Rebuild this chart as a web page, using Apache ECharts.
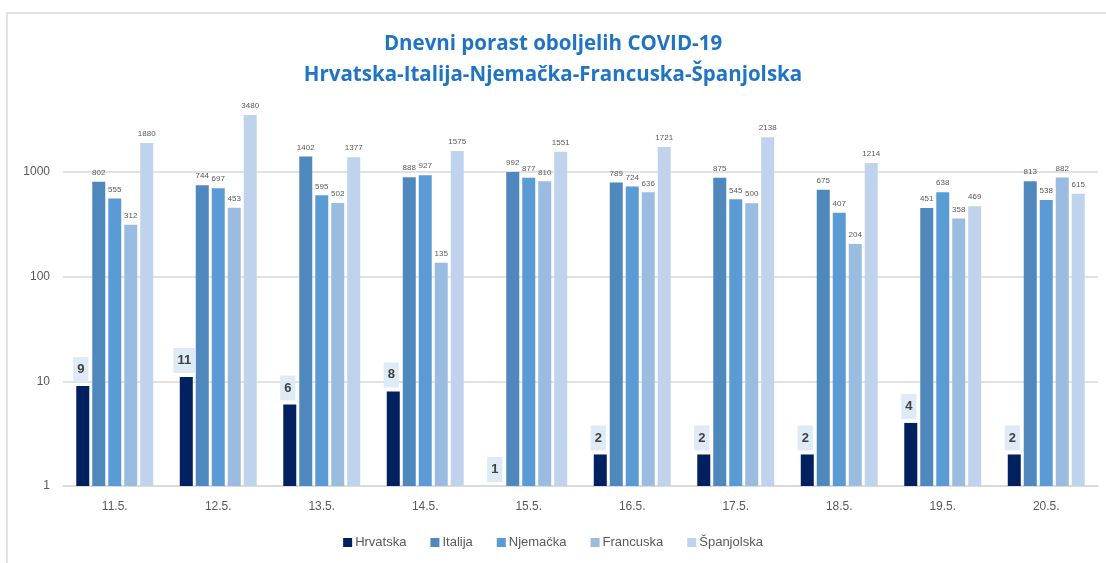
<!DOCTYPE html>
<html style="height: 100%">
<head>
    <meta charset="utf-8">
    <script src="https://cdn.jsdelivr.net/npm/echarts@6/dist/echarts.min.js"></script>
</head>
<body style="height:100%;margin:0;background:#fff">
    <div id="main" style="width:1106px;height:563px;"></div>
    <script type="text/javascript">

        // podaci
        var dani = ['11.5.', '12.5.', '13.5.', '14.5.', '15.5.', '16.5.', '17.5.', '18.5.', '19.5.', '20.5.'];
        var hrvatska = [9, 11, 6, 8, 1, 2, 2, 2, 4, 2];
        var italija = [802, 744, 1402, 888, 992, 789, 875, 675, 451, 813];
        var njemacka = [555, 697, 595, 927, 877, 724, 545, 407, 638, 538];
        var francuska = [312, 453, 502, 135, 810, 636, 500, 204, 358, 882];
        var spanjolska = [1880, 3480, 1377, 1575, 1551, 1721, 2138, 1214, 469, 615];

        var myChart = echarts.init(document.getElementById('main'));

        var malaOznaka = {
            show: true,
            position: 'top',
            distance: 5,
            fontSize: 8,
            color: '#595959',
            fontFamily: 'Liberation Sans'
        };

        function serija(ime, podaci, boja) {
            return {
                name: ime,
                type: 'bar',
                data: podaci,
                barWidth: 13,
                barGap: '23%',
                itemStyle: { color: boja },
                label: malaOznaka
            };
        }

        var option = {
            animation: false,
            textStyle: { fontFamily: 'Liberation Sans' },
            graphic: [{
                type: 'rect',
                shape: { x: 7, y: 13, width: 1200, height: 600 },
                style: { fill: 'none', stroke: '#d9d9d9', lineWidth: 1.5 },
                z: -1
            }],
            title: {
                text: 'Dnevni porast oboljelih COVID-19\nHrvatska-Italija-Njemačka-Francuska-Španjolska',
                left: 'center',
                top: 24,
                textStyle: {
                    color: '#1f74c4',
                    fontSize: 20.5,
                    fontWeight: 'bold',
                    lineHeight: 31,
                    fontFamily: 'Open Sans'
                }
            },
            legend: {
                bottom: 9,
                left: 'center',
                icon: 'rect',
                itemWidth: 9,
                itemHeight: 9,
                itemGap: 24,
                textStyle: { color: '#595959', fontSize: 13, padding: [0, 0, 0, -2] }
            },
            grid: {
                left: 63,
                right: 8,
                top: 67,
                bottom: 77
            },
            xAxis: {
                type: 'category',
                data: dani,
                axisTick: { show: false },
                axisLine: { lineStyle: { color: '#d9d9d9', width: 1.5 } },
                axisLabel: { color: '#595959', fontSize: 12, margin: 15 }
            },
            yAxis: {
                type: 'log',
                logBase: 10,
                min: 1,
                max: 10000,
                axisLine: { show: false },
                axisTick: { show: false },
                axisLabel: {
                    color: '#595959',
                    fontSize: 12,
                    margin: 13,
                    showMaxLabel: false,
                    formatter: function (v) { return String(Math.round(v)); }
                },
                splitLine: { showMaxLine: false, lineStyle: { color: '#d9d9d9', width: 1.5 } }
            },
            color: ['#002060', '#4f88bd', '#5b9bd5', '#9bbce1', '#bfd3ec'],
            series: [
                {
                    name: 'Hrvatska',
                    type: 'bar',
                    data: hrvatska,
                    barWidth: 13,
                    barGap: '23%',
                    itemStyle: { color: '#002060' },
                    label: {
                        show: true,
                        position: 'top',
                        distance: 4,
                        offset: [-2, 0],
                        fontSize: 13,
                        fontWeight: 'bold',
                        color: '#404040',
                        backgroundColor: '#deebf7',
                        padding: [6, 4, 6, 4]
                    }
                },
                serija('Italija', italija, '#4f88bd'),
                serija('Njemačka', njemacka, '#5b9bd5'),
                serija('Francuska', francuska, '#9bbce1'),
                serija('Španjolska', spanjolska, '#bfd3ec')
            ]
        };
        myChart.setOption(option);
    </script>
</body>
</html>
